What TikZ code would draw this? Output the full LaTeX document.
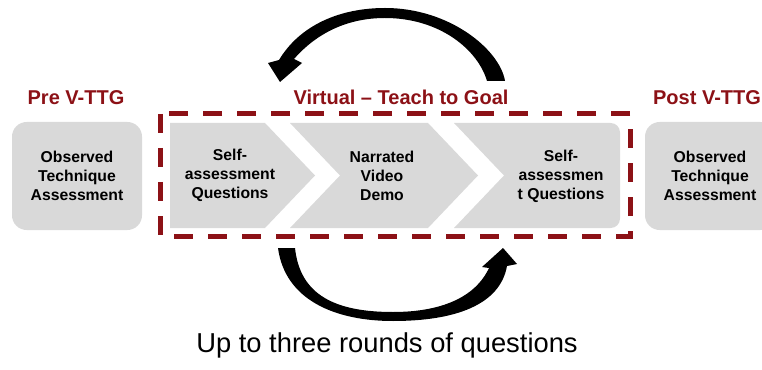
\documentclass[tikz,border=0pt]{standalone}
\usepackage{fontspec}
\setmainfont{Liberation Sans}
\usetikzlibrary{positioning}
\definecolor{ttgred}{HTML}{8C1116}
\definecolor{stagegray}{HTML}{D9D9D9}

\begin{document}
\begin{tikzpicture}[
  x=0.75pt, y=-0.75pt,
  assessbox/.style={fill=stagegray, rounded corners=11pt,
                    minimum width=97.5pt, minimum height=81pt,
                    align=center, inner sep=0pt,
                    font=\fontsize{11.8}{14.25}\selectfont\bfseries},
  chevron/.style={fill=stagegray, draw=none},
  stagetext/.style={align=center, inner sep=0pt,
                    font=\fontsize{11.8}{14.25}\selectfont\bfseries},
  phaselabel/.style={anchor=base, inner sep=0pt, text=ttgred,
                     font=\fontsize{15}{18}\selectfont\bfseries},
  loopframe/.style={draw=ttgred, line width=3.75pt,
                    dash pattern=on 14.25pt off 11.25pt},
  looparrow/.style={fill=black, draw=none},
]
\useasboundingbox (0,0) rectangle (762,370);
\clip (0,0) rectangle (762,370);

% --- Pre and post assessment ---
\node[assessbox] (pre)  at (77,176)  {Observed\\Technique\\Assessment};
\node[assessbox] (post) at (710,176) {Observed\\Technique\\Assessment};
\node[phaselabel] (prelbl)  at (76,105)  {Pre V-TTG};
\node[phaselabel] (postlbl) at (707,105) {Post V-TTG};

% --- Teach-to-goal stages (chevrons) ---
\fill[chevron] (170,123) -- (265,123) -- (315,175.5) -- (265,228) -- (170,228) -- cycle;
\fill[chevron] (290,123) -- (428,123) -- (478,175.5) -- (428,228) -- (290,228)
               -- (340,175.5) -- cycle;
\fill[chevron] (454,123) [rounded corners=7pt] -- (620,123) -- (620,228)
               [sharp corners] -- (454,228) -- (504,175.5) -- cycle;

\node[stagetext] (selfa) at (230,175) {Self-\\assessment\\Questions};
\node[stagetext] (video) at (382,176) {Narrated\\Video\\Demo};
\node[stagetext] (selfb) at (561,176) {Self-\\assessmen\\t Questions};

% dashed frame round the loop
\draw[loopframe] (160,114) rectangle (630,236);
\node[phaselabel] (vttg) at (401,105) {Virtual – Teach to Goal};

% --- Loop arrows ---
% back to the start (over the top)
\fill[looparrow] (505,81) .. controls (500,50) and (450,8) .. (385,8)
  .. controls (340,8) and (300,25) .. (279,60) -- (268,63) -- (280,82)
  -- (302,63) -- (294,59) .. controls (315,35) and (345,18) .. (385,18)
  .. controls (440,18) and (478,50) .. (487,81) -- cycle;
% forward again (underneath)
\fill[looparrow] (278,248) .. controls (285,300) and (335,321) .. (393,321)
  .. controls (455,321) and (500,305) .. (507,266) -- (517,264) -- (503,248)
  -- (482,267) -- (489,268) .. controls (475,298) and (440,312) .. (393,312)
  .. controls (335,312) and (300,295) .. (295,248) -- cycle;

\node[anchor=base, inner sep=0pt, font=\fontsize{20.5}{24}\selectfont]
  (rounds) at (387,352) {Up to three rounds of questions};
\end{tikzpicture}
\end{document}
